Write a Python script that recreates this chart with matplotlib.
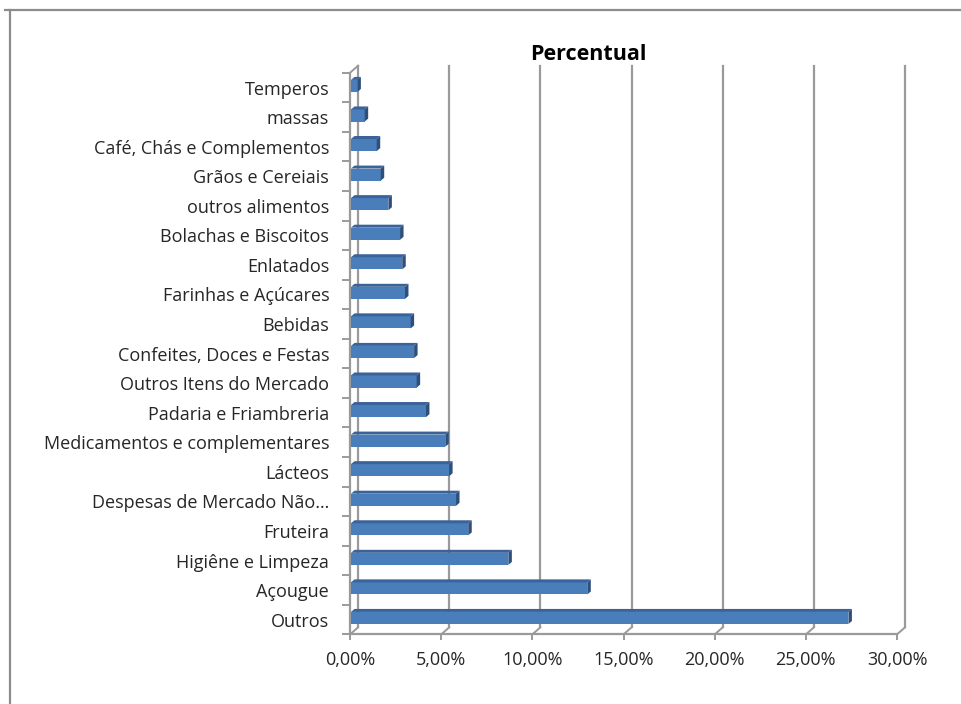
import matplotlib.pyplot as plt
from matplotlib.lines import Line2D
from matplotlib.patches import Polygon

plt.rcParams['font.family'] = ['Open Sans', 'DejaVu Sans']

# share of spending per category, bottom row first
categories = [
    'Outros', 'Açougue', 'Higiêne e Limpeza', 'Fruteira',
    'Despesas de Mercado Não…', 'Lácteos', 'Medicamentos e complementares',
    'Padaria e Friambreria', 'Outros Itens do Mercado',
    'Confeites, Doces e Festas', 'Bebidas', 'Farinhas e Açúcares',
    'Enlatados', 'Bolachas e Biscoitos', 'outros alimentos',
    'Grãos e Cereiais', 'Café, Chás e Complementos', 'massas', 'Temperos',
]
percent = [
    27.28, 12.96, 8.63, 6.43, 5.76, 5.38, 5.17, 4.11, 3.60, 3.46,
    3.27, 2.96, 2.81, 2.69, 2.05, 1.63, 1.41, 0.75, 0.35,
]
x_ticks = [0, 5, 10, 15, 20, 25, 30]

W, H = 961, 704
GRID = '#9a9a9a'
FRONT = '#4a7ebb'
TOP = '#3a6399'
SIDE = '#2c4f7c'

fig = plt.figure(figsize=(W / 100, H / 100), dpi=100)

# front plane of the plot area, in pixels
left, right, bottom, top = 350, 897, 634.4, 72.8
ax = fig.add_axes([left / W, 1 - bottom / H, (right - left) / W, (bottom - top) / H])
n = len(categories)
ax.set_xlim(0, 30)
ax.set_ylim(-0.5, n - 0.5)

# pixel -> data unit factors
px_x = 30 / (right - left)
px_y = n / (bottom - top)

# back wall offset
wdx, wdy = 8 * px_x, 7 * px_y

for v in x_ticks:
    # back wall gridline
    ax.add_line(Line2D([v + wdx, v + wdx], [-0.5 + wdy, n - 0.5 + wdy],
                       color=GRID, lw=1.6, clip_on=False, zorder=1))
    # floor edge to the front tick
    ax.add_line(Line2D([v, v + wdx], [-0.5, -0.5 + wdy],
                       color=GRID, lw=1.4, clip_on=False, zorder=1))

# side wall top edge
ax.add_line(Line2D([0, wdx], [n - 0.5, n - 0.5 + wdy],
                   color=GRID, lw=1.4, clip_on=False, zorder=1))

# bars drawn as boxes: front face, top face, end face
bdx, bdy = 3.5 * px_x, 3 * px_y
x0 = 1 * px_x
for i, v in enumerate(percent):
    y0, y1 = i - 0.15, i + 0.26
    x1 = x0 + v
    ax.add_patch(Polygon([(x0, y0), (x1, y0), (x1, y1), (x0, y1)],
                         closed=True, fc=FRONT, ec='none', zorder=3, clip_on=False))
    ax.add_patch(Polygon([(x0, y1), (x1, y1), (x1 + bdx, y1 + bdy), (x0 + bdx, y1 + bdy)],
                         closed=True, fc=TOP, ec='none', zorder=3, clip_on=False))
    ax.add_patch(Polygon([(x1, y0), (x1 + bdx, y0 + bdy), (x1 + bdx, y1 + bdy), (x1, y1)],
                         closed=True, fc=SIDE, ec='none', zorder=3, clip_on=False))

for side in ['top', 'right']:
    ax.spines[side].set_visible(False)
for side in ['left', 'bottom']:
    ax.spines[side].set_color(GRID)
    ax.spines[side].set_linewidth(1.6)
    ax.spines[side].set_zorder(2)

ax.set_xticks(x_ticks, [f'{v:.2f}%'.replace('.', ',') for v in x_ticks])
ax.set_yticks(range(n), categories)
ax.set_yticks([i - 0.5 for i in range(n + 1)], minor=True)
ax.tick_params(axis='x', length=4, width=1.4, color=GRID, pad=8,
               labelsize=13, labelcolor='#262626')
ax.tick_params(axis='y', which='major', length=0, pad=15,
               labelsize=13, labelcolor='#262626')
ax.tick_params(axis='y', which='minor', length=6, width=1.4, color=GRID)
ax.patch.set_visible(False)

fig.text(588 / W, 1 - 55 / H, 'Percentual', ha='center', va='center',
         fontsize=15.5, fontweight='bold', color='black')

# outer chart border (top and left edges)
fig.add_artist(Line2D([5 / W, 1], [1 - 10 / H, 1 - 10 / H], color='#8c8c8c', lw=1.6))
fig.add_artist(Line2D([10 / W, 10 / W], [0, 1 - 10 / H], color='#8c8c8c', lw=1.6))

fig.savefig('out.png', dpi=100)
